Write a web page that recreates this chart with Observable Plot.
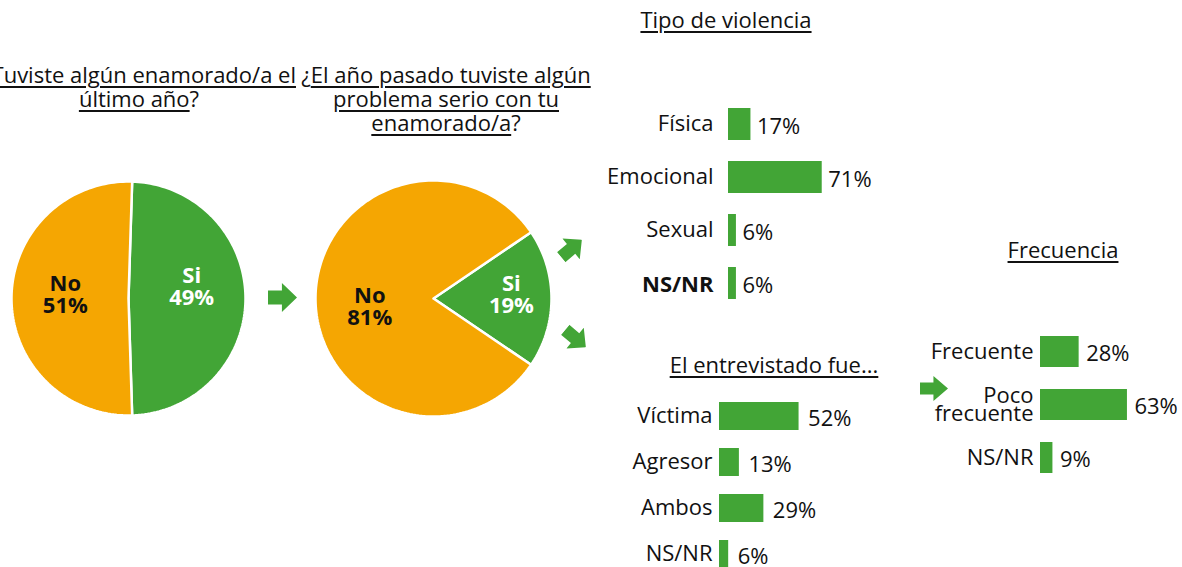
<!DOCTYPE html>
<html><head><meta charset="utf-8">
<script src="https://cdn.jsdelivr.net/npm/d3@7"></script>
<script src="https://cdn.jsdelivr.net/npm/@observablehq/plot@0.6"></script>
<style>
html,body{margin:0;padding:0;background:#fff;}
#root{position:relative;width:1182px;height:567px;overflow:hidden;font-family:"Open Sans",sans-serif;color:#111;}
.title{position:absolute;text-align:center;font-size:22px;line-height:24px;white-space:nowrap;}
.title u{text-decoration-thickness:1.5px;text-underline-offset:3px;}
</style></head><body><div id="root"></div>
<script>
// ---- data ----
const pie1Labels = ["Si", "No"];
const pie1Values = [49, 51];
const pie2Labels = ["Si", "No"];
const pie2Values = [19, 81];
const tipoCats = ["Física", "Emocional", "Sexual", "NS/NR"];
const tipoValues = [17, 71, 6, 6];
const rolCats = ["Víctima", "Agresor", "Ambos", "NS/NR"];
const rolValues = [52, 13, 29, 6];
const frecCats = ["Frecuente", "Poco frecuente", "NS/NR"];
const frecValues = [28, 63, 9];

const ORANGE = "#F5A602", GREEN = "#42A536", FONT = "Open Sans, sans-serif";
const root = document.getElementById("root");

function addLayer(svg) {
  svg.style.position = "absolute";
  svg.style.left = "0px";
  svg.style.top = "0px";
  svg.style.overflow = "visible";
  svg.style.background = "transparent";
  root.appendChild(svg);
}

function pieGeometry(labels, values, startDeg) {
  const total = d3.sum(values);
  let acc = 0;
  const slices = [];
  labels.forEach((lab, i) => {
    const a0 = startDeg + acc / total * 360;
    acc += values[i];
    const a1 = startDeg + acc / total * 360;
    const n = Math.max(4, Math.ceil((a1 - a0) / 1.5));
    const pts = [{x: 0, y: 0}];
    for (let k = 0; k <= n; k++) {
      const a = (a0 + (a1 - a0) * k / n) * Math.PI / 180;
      pts.push({x: Math.sin(a), y: Math.cos(a)});
    }
    pts.push({x: 0, y: 0});
    slices.push({label: lab, value: values[i], mid: (a0 + a1) / 2 * Math.PI / 180, pts});
  });
  return slices;
}

function piePlot(labels, values, opt) {
  const slices = pieGeometry(labels, values, opt.start);
  const colorOf = l => l === "Si" ? GREEN : ORANGE;
  const textOf = l => l === "Si" ? "white" : "#111";
  const marks = [];
  slices.forEach(s => {
    marks.push(Plot.line(s.pts, {x: "x", y: "y", fill: colorOf(s.label), stroke: "white", strokeWidth: 2.5, strokeLinejoin: "round"}));
  });
  slices.forEach(s => {
    const r = opt.labelR[s.label];
    marks.push(Plot.text([{x: r * Math.sin(s.mid), y: r * Math.cos(s.mid) + opt.labelDy[s.label], t: `${s.label}\n${s.value}%`}],
      {x: "x", y: "y", text: "t", fill: textOf(s.label), fontWeight: "bold", fontSize: 22, lineHeight: 1.0, fontFamily: FONT}));
  });
  return Plot.plot({
    width: 1182, height: 567, margin: 0,
    x: {domain: [-1, 1], range: [opt.cx - opt.r, opt.cx + opt.r], axis: null},
    y: {domain: [-1, 1], range: [opt.cy + opt.r, opt.cy - opt.r], axis: null},
    style: {fontFamily: FONT},
    marks
  });
}

function barPlot(cats, values, opt) {
  const data = cats.map((c, i) => ({cat: c, value: values[i]}));
  const bold = opt.bold || [];
  const marks = [
    Plot.barX(data, {x: "value", y: "cat", fill: GREEN}),
    Plot.text(data, {x: "value", y: "cat", text: d => d.value + "%", textAnchor: "start", dx: opt.valueDx, dy: 2, fontSize: 22, fill: "#111", fontFamily: FONT}),
    Plot.axisY({ticks: cats.filter(c => !bold.includes(c)), anchor: "left", tickSize: 0, tickPadding: opt.tickPadding, label: null,
      fontSize: 22, lineHeight: 0.82, fontFamily: FONT, tickFormat: d => d.replace(" ", "\n"), fill: "#111", dy: 1})
  ];
  if (bold.length) marks.push(Plot.axisY({ticks: bold, anchor: "left", tickSize: 0, tickPadding: opt.tickPadding, label: null,
      fontSize: 22, fontWeight: "bold", fontFamily: FONT, fill: "#111", dy: 1}));
  return Plot.plot({
    width: 1182, height: 567, marginLeft: opt.x0, marginTop: 0, marginRight: 0, marginBottom: 0,
    x: {domain: [0, 100], range: [opt.x0, opt.x0 + 100 * opt.pxPer], axis: null},
    y: {domain: cats, range: opt.yRange, padding: opt.padding, axis: null},
    style: {fontFamily: FONT, fontSize: "22px", color: "#111"},
    marks
  });
}

addLayer(piePlot(pie1Labels, pie1Values, {cx: 128, cy: 298, r: 117, start: 1.8,
  labelR: {Si: 0.54, No: 0.54}, labelDy: {Si: 0.1, No: 0.03}}));
addLayer(piePlot(pie2Labels, pie2Values, {cx: 433, cy: 298, r: 118, start: 55.8,
  labelR: {Si: 0.66, No: 0.54}, labelDy: {Si: 0.03, No: -0.07}}));

addLayer(barPlot(tipoCats, tipoValues, {x0: 728, pxPer: 1.32, yRange: [85, 322], padding: 0.4, tickPadding: 15, valueDx: 6, bold: ["NS/NR"]}));
addLayer(barPlot(rolCats, rolValues, {x0: 719, pxPer: 1.53, yRange: [382, 588], padding: 0.4, tickPadding: 7, valueDx: 9}));
addLayer(barPlot(frecCats, frecValues, {x0: 1040, pxPer: 1.38, yRange: [314, 496], padding: 0.415, tickPadding: 7, valueDx: 7}));

// titles
function title(html, cx, top, w) {
  const d = document.createElement("div");
  d.className = "title";
  d.style.left = (cx - w / 2) + "px";
  d.style.width = w + "px";
  d.style.top = top + "px";
  d.innerHTML = html;
  root.appendChild(d);
}
title("¿<u>Tuviste algún enamorado/a el</u><br><u>último año</u>?", 139, 62, 420);
title("¿<u>El año pasado tuviste algún</u><br><u>problema serio con tu</u><br><u>enamorado/a</u>?", 446, 62, 420);
title("<u>Tipo de violencia</u>", 726, 7, 300);
title("<u>El entrevistado fue...</u>", 774, 352, 300);
title("<u>Frecuencia</u>", 1063, 237, 200);

// decorative block arrows
function arrow(cx, cy, w, h, rot) {
  const s = document.createElementNS("http://www.w3.org/2000/svg", "svg");
  s.setAttribute("width", w); s.setAttribute("height", h);
  s.style.position = "absolute";
  s.style.left = (cx - w / 2) + "px";
  s.style.top = (cy - h / 2) + "px";
  s.style.transform = `rotate(${rot}deg)`;
  const p = document.createElementNS("http://www.w3.org/2000/svg", "polygon");
  const sx = w * 0.48, t = h * 0.26;
  p.setAttribute("points", `0,${t} ${sx},${t} ${sx},0 ${w},${h / 2} ${sx},${h} ${sx},${h - t} 0,${h - t}`);
  p.setAttribute("fill", GREEN);
  s.appendChild(p);
  root.appendChild(s);
}
arrow(282, 297, 29, 29, 0);
arrow(571, 248, 27, 27, -40);
arrow(575, 338, 27, 27, 40);
arrow(934, 388, 28, 25, 0);
</script></body></html>
